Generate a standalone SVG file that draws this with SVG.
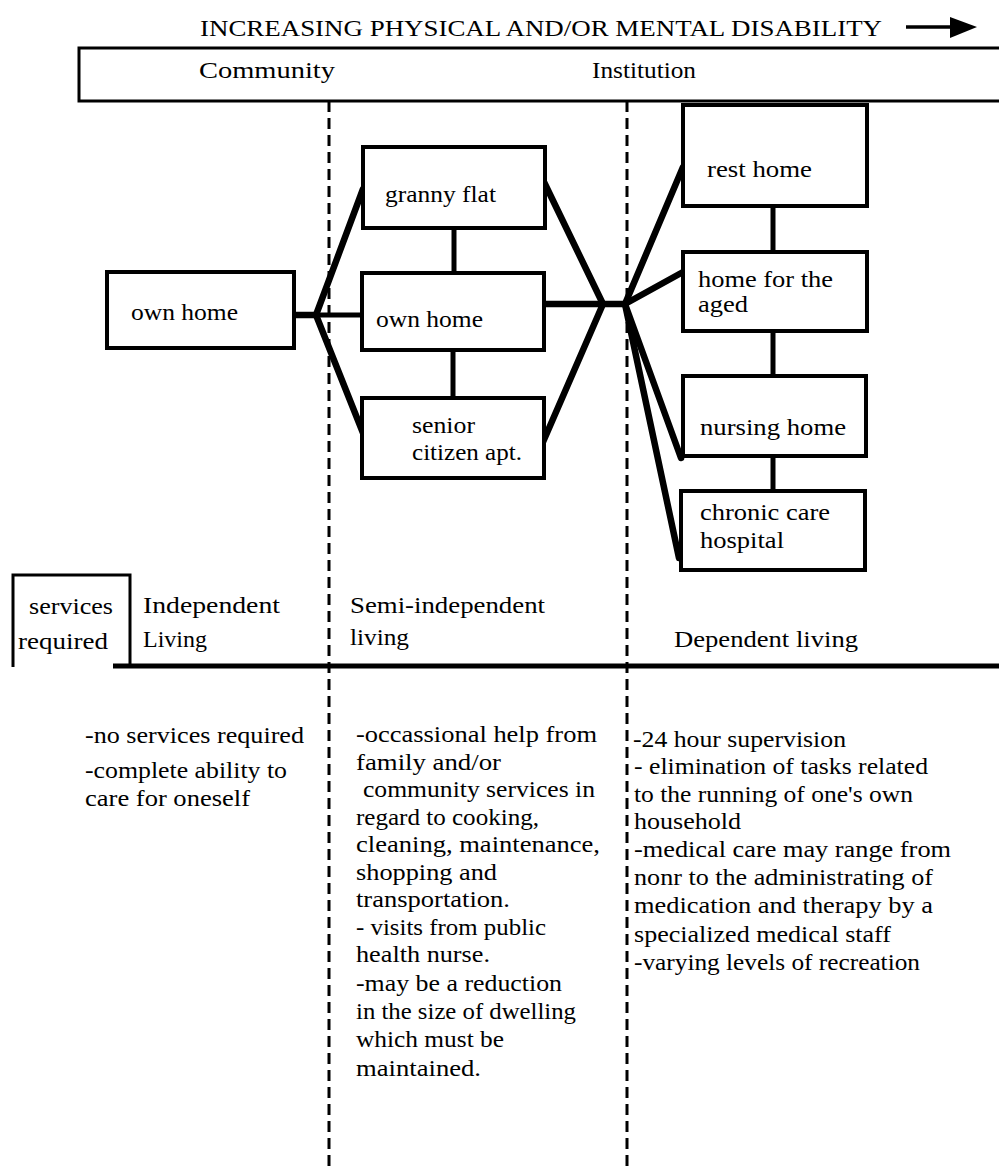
<svg xmlns="http://www.w3.org/2000/svg" width="999" height="1171" viewBox="0 0 999 1171">
<style>
.t{font-family:"Liberation Serif","Times New Roman",serif;font-size:23px;fill:#000}
.n{font-family:"Liberation Serif","Times New Roman",serif;font-size:24px;fill:#000}
.box{fill:#fff;stroke:#000;stroke-width:4}
.thick{stroke:#000;stroke-width:6.5;fill:none;stroke-linecap:round}
.med{stroke:#000;stroke-width:5;fill:none}
.dash{stroke:#000;stroke-width:3;stroke-dasharray:11 6;fill:none}
.rule{stroke:#000;stroke-width:3;fill:none}
</style>
<rect width="999" height="1171" fill="#fff"/>
<g id="header">
<text class="t" x="200" y="36" font-size="28" textLength="682" lengthAdjust="spacingAndGlyphs">INCREASING PHYSICAL AND/OR MENTAL DISABILITY</text>
<line x1="906" y1="27" x2="952" y2="27" stroke="#000" stroke-width="3.5"/>
<polygon points="950,17 977,27 950,38" fill="#000"/>
<path class="rule" d="M999 48 H79 V101 H999"/>
<text class="t" x="199" y="78" textLength="136" lengthAdjust="spacingAndGlyphs">Community</text>
<text class="t" x="592" y="78" textLength="104" lengthAdjust="spacingAndGlyphs">Institution</text>
</g>
<g id="dividers">
<line class="dash" x1="329" y1="101" x2="329" y2="1171"/>
<line class="dash" x1="627" y1="101" x2="627" y2="1171"/>
</g>
<g id="connectors">
<line class="thick" x1="294" y1="315" x2="316" y2="315"/>
<line class="med" x1="316" y1="315" x2="362" y2="315"/>
<line class="thick" x1="316" y1="315" x2="363" y2="189"/>
<line class="thick" x1="316" y1="315" x2="363" y2="433"/>
<line class="med" x1="454" y1="228" x2="454" y2="273"/>
<line class="med" x1="453" y1="350" x2="453" y2="398"/>
<line class="thick" x1="544" y1="182" x2="603" y2="304"/>
<line class="thick" x1="543" y1="304" x2="625" y2="304"/>
<line class="thick" x1="543" y1="442" x2="603" y2="304"/>
<line class="thick" x1="625" y1="304" x2="683" y2="167"/>
<line class="thick" x1="625" y1="304" x2="683" y2="272"/>
<line class="thick" x1="625" y1="304" x2="681" y2="458"/>
<line class="thick" x1="625" y1="304" x2="679" y2="558"/>
<line class="med" x1="773" y1="206" x2="773" y2="252"/>
<line class="med" x1="773" y1="331" x2="773" y2="376"/>
<line class="med" x1="773" y1="456" x2="773" y2="491"/>
</g>
<g id="own-home-left">
<rect class="box" x="107" y="272" width="187" height="76"/>
<text class="n" x="131" y="320" textLength="107" lengthAdjust="spacingAndGlyphs">own home</text>
</g>
<g id="granny-flat">
<rect class="box" x="363" y="147" width="182" height="81"/>
<text class="n" x="385" y="202" textLength="111" lengthAdjust="spacingAndGlyphs">granny flat</text>
</g>
<g id="own-home-mid">
<rect class="box" x="362" y="273" width="182" height="77"/>
<text class="n" x="376" y="327" textLength="107" lengthAdjust="spacingAndGlyphs">own home</text>
</g>
<g id="senior">
<rect class="box" x="362" y="398" width="182" height="80"/>
<text class="n" x="412" y="433" textLength="63" lengthAdjust="spacingAndGlyphs">senior</text>
<text class="n" x="412" y="460" textLength="110" lengthAdjust="spacingAndGlyphs">citizen apt.</text>
</g>
<g id="rest-home">
<rect class="box" x="683" y="105" width="184" height="101"/>
<text class="n" x="707" y="177" textLength="105" lengthAdjust="spacingAndGlyphs">rest home</text>
</g>
<g id="home-aged">
<rect class="box" x="683" y="252" width="184" height="79"/>
<text class="n" x="698" y="287" textLength="135" lengthAdjust="spacingAndGlyphs">home for the</text>
<text class="n" x="698" y="312" textLength="50" lengthAdjust="spacingAndGlyphs">aged</text>
</g>
<g id="nursing-home">
<rect class="box" x="683" y="376" width="183" height="80"/>
<text class="n" x="700" y="435" textLength="146" lengthAdjust="spacingAndGlyphs">nursing home</text>
</g>
<g id="chronic-care">
<rect class="box" x="681" y="491" width="184" height="79"/>
<text class="n" x="700" y="520" textLength="130" lengthAdjust="spacingAndGlyphs">chronic care</text>
<text class="n" x="700" y="548" textLength="84" lengthAdjust="spacingAndGlyphs">hospital</text>
</g>
<g id="services-header">
<path class="rule" d="M13 667 V575 H130 V667"/>
<line x1="113" y1="666" x2="999" y2="666" stroke="#000" stroke-width="5"/>
<text class="t" x="29" y="614" textLength="84" lengthAdjust="spacingAndGlyphs">services</text>
<text class="t" x="18" y="649" textLength="90" lengthAdjust="spacingAndGlyphs">required</text>
<text class="t" x="143" y="613" textLength="137" lengthAdjust="spacingAndGlyphs">Independent</text>
<text class="t" x="143" y="647" textLength="64" lengthAdjust="spacingAndGlyphs">Living</text>
<text class="t" x="350" y="613" textLength="195" lengthAdjust="spacingAndGlyphs">Semi-independent</text>
<text class="t" x="350" y="645" textLength="59" lengthAdjust="spacingAndGlyphs">living</text>
<text class="t" x="674" y="647" textLength="184" lengthAdjust="spacingAndGlyphs">Dependent living</text>
</g>
<g id="independent-text">
<text class="t" x="85" y="743" textLength="219" lengthAdjust="spacingAndGlyphs">-no services required</text>
<text class="t" x="85" y="778" textLength="202" lengthAdjust="spacingAndGlyphs">-complete ability to</text>
<text class="t" x="85" y="806" textLength="165" lengthAdjust="spacingAndGlyphs">care for oneself</text>
</g>
<g id="semi-text">
<text class="t" x="356" y="742" textLength="241" lengthAdjust="spacingAndGlyphs">-occassional help  from</text>
<text class="t" x="356" y="770" textLength="145" lengthAdjust="spacingAndGlyphs">family and/or</text>
<text class="t" x="363" y="797" textLength="232" lengthAdjust="spacingAndGlyphs">community services in</text>
<text class="t" x="356" y="825" textLength="183" lengthAdjust="spacingAndGlyphs">regard to cooking,</text>
<text class="t" x="356" y="852" textLength="244" lengthAdjust="spacingAndGlyphs">cleaning, maintenance,</text>
<text class="t" x="356" y="880" textLength="141" lengthAdjust="spacingAndGlyphs">shopping and</text>
<text class="t" x="356" y="907" textLength="154" lengthAdjust="spacingAndGlyphs">transportation.</text>
<text class="t" x="356" y="935" textLength="190" lengthAdjust="spacingAndGlyphs">- visits from public</text>
<text class="t" x="356" y="962" textLength="134" lengthAdjust="spacingAndGlyphs">health nurse.</text>
<text class="t" x="356" y="991" textLength="206" lengthAdjust="spacingAndGlyphs">-may be a reduction</text>
<text class="t" x="356" y="1019" textLength="220" lengthAdjust="spacingAndGlyphs">in the size of dwelling</text>
<text class="t" x="356" y="1047" textLength="148" lengthAdjust="spacingAndGlyphs">which must be</text>
<text class="t" x="356" y="1076" textLength="125" lengthAdjust="spacingAndGlyphs">maintained.</text>
</g>
<g id="dependent-text">
<text class="t" x="633" y="747" textLength="213" lengthAdjust="spacingAndGlyphs">-24 hour supervision</text>
<text class="t" x="634" y="774" textLength="294" lengthAdjust="spacingAndGlyphs">- elimination of tasks related</text>
<text class="t" x="634" y="802" textLength="279" lengthAdjust="spacingAndGlyphs">to the running of one's own</text>
<text class="t" x="634" y="829" textLength="107" lengthAdjust="spacingAndGlyphs">household</text>
<text class="t" x="634" y="857" textLength="317" lengthAdjust="spacingAndGlyphs">-medical care may range from</text>
<text class="t" x="634" y="885" textLength="299" lengthAdjust="spacingAndGlyphs">nonr to the administrating of</text>
<text class="t" x="634" y="913" textLength="299" lengthAdjust="spacingAndGlyphs">medication and therapy by a</text>
<text class="t" x="634" y="942" textLength="257" lengthAdjust="spacingAndGlyphs">specialized medical staff</text>
<text class="t" x="634" y="970" textLength="286" lengthAdjust="spacingAndGlyphs">-varying levels of recreation</text>
</g>
</svg>
